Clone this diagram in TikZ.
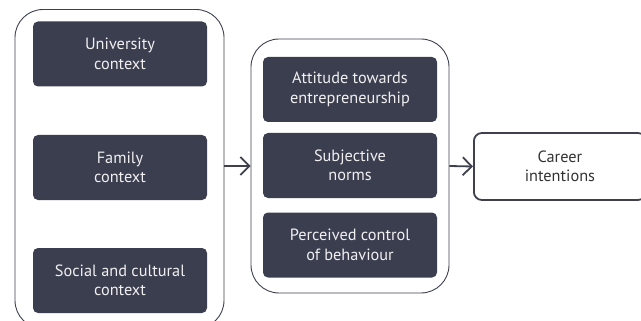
\documentclass[tikz,border=0pt]{standalone}
\usepackage{fontspec}
\setmainfont{PT Sans}
\usepackage{xcolor}
\usepackage{tikz}
\usetikzlibrary{arrows.meta}
\definecolor{darkslate}{RGB}{59, 62, 78}
\definecolor{lineslate}{RGB}{62, 64, 76}
\definecolor{paletext}{RGB}{240, 240, 242}

\begin{document}
\begin{tikzpicture}[x=1pt, y=-1pt,
            font=\fontsize{16.3}{19.5}\selectfont,
            element/.style = {
                draw=none,
                text=paletext,
                fill=darkslate,
                rounded corners=5pt,
                align=center,
                minimum height=65pt,
                minimum width=174pt,
                },
            group/.style = {
                draw=lineslate,
                line width=0.9pt,
                rounded corners=28pt,
                },
            outcome/.style = {
                draw=lineslate,
                line width=1.8pt,
                text=black!80,
                align=center,
                rounded corners=8pt,
                minimum height=67pt,
                minimum width=172pt},
            link/.style = {
                draw=lineslate,
                line width=1.8pt,
                -{Straight Barb[length=9pt, width=18pt, line width=1.8pt]}}]
            \useasboundingbox (0,0) rectangle (641,321);
            \clip (0,0) rectangle (641,321);
            % outer frames
            \node[group, minimum width=209pt, minimum height=319pt] (ctx) at (119.5,169) {};
            \node[group, minimum width=198pt, minimum height=254pt] (tpb) at (350,166) {};
            % context factors
            \node[element] (uni) at (120,54) {University\\context};
            \node[element] (fam) at (120,167.5) {Family\\context};
            \node[element] (soc) at (120,280.5) {Social and cultural\\context};
            % planned behaviour
            \node[element] (att) at (350,89.5) {Attitude towards\\entrepreneurship};
            \node[element] (sub) at (350,165.5) {Subjective\\norms};
            \node[element] (pcb) at (350,245) {Perceived control\\of behaviour};
            % result
            \node[outcome, anchor=west] (car) at (473,166.5) {Career\\intentions};
            \draw[link] (ctx.east |- tpb.west) -- (tpb.west);
            \draw[link] (tpb.east) -- (car.west);
        \end{tikzpicture}
\end{document}
